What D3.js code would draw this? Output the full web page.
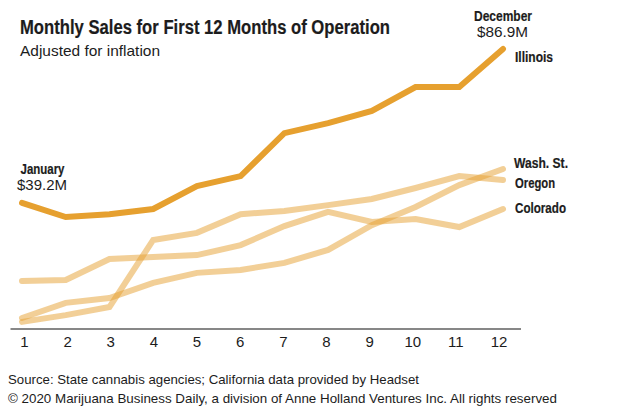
<!DOCTYPE html>
<html>
<head>
<meta charset="utf-8">
<script src="https://cdn.jsdelivr.net/npm/d3@7"></script>
<style>
html,body{margin:0;padding:0;background:#fff}
svg{display:block}
text{fill:#1c1c1c}
.h{font-family:"Liberation Sans",sans-serif;font-weight:700;stroke:#1c1c1c;stroke-width:.2px}
.b{font-family:"Liberation Sans",sans-serif}
</style>
</head>
<body>
<svg id="c" width="620" height="413"></svg>
<script>
const months = [1,2,3,4,5,6,7,8,9,10,11,12];
const illinois = [39.2,34.8,35.7,37.3,44.4,47.5,60.8,63.9,67.7,75.1,75.1,86.9];
const colorado = [15.0,15.3,21.8,22.4,23.0,26.1,32.0,36.4,33.3,34.2,31.7,37.3];
const oregon = [2.3,4.4,6.9,27.7,29.9,35.7,36.7,38.5,40.4,43.8,47.5,46.3];
const washington = [3.5,8.2,9.7,14.4,17.5,18.4,20.6,24.6,32.3,37.9,44.7,49.7];
const seriesNames = ["Colorado","Oregon","Wash. St.","Illinois"];
const svg = d3.select("#c");
const x = d3.scaleLinear().domain([1,12]).range([22,503]);
const xLabels = d3.scaleLinear().domain([1,12]).range([24,498.5]);
const y = d3.scaleLinear().domain([0,86.9]).range([329.3,49]);
const line = d3.line().x((d,i)=>x(months[i])).y(d=>y(d));
const muted = [colorado,oregon,washington];
svg.selectAll("path.m").data(muted).join("path").attr("class","m")
  .attr("d",line).attr("fill","none").attr("stroke","#e6a02f").attr("stroke-opacity",.5)
  .attr("stroke-width",6).attr("stroke-linecap","round").attr("stroke-linejoin","miter");
svg.append("path").attr("d",line(illinois)).attr("fill","none").attr("stroke","#e6a02f")
  .attr("stroke-width",6).attr("stroke-linecap","round").attr("stroke-linejoin","miter");
svg.append("line").attr("x1",10.5).attr("x2",521).attr("y1",329).attr("y2",329).attr("stroke","#111").attr("stroke-width",1.2);
const axis = d3.axisBottom(xLabels).tickValues(months).tickFormat(d3.format("d")).tickSize(0).tickPadding(7);
const ag = svg.append("g").attr("transform","translate(0,329)").call(axis);
ag.select(".domain").remove();
ag.selectAll("text").attr("class","b").style("font-size","15px").style("fill","#1c1c1c");
function t(s,px,py,size,cls,len){
  return svg.append("text").text(s).attr("x",px).attr("y",py).attr("class",cls)
    .attr("textLength",len).attr("lengthAdjust","spacingAndGlyphs").style("font-size",size+"px");
}
t("Monthly Sales for First 12 Months of Operation",20,34,20,"h",370);
t("Adjusted for inflation",20,56,15,"b",140);
t("January",20.5,174,14,"h",44);
t("$39.2M",17,190,15,"b",50);
t("December",474,21,14,"h",58);
t("$86.9M",477,37,15,"b",51);
t(seriesNames[3],515,62,14,"h",38);
t(seriesNames[2],514,168,14,"h",54);
t(seriesNames[1],515,188,14,"h",40);
t(seriesNames[0],515,213,14,"h",51);
t("Source: State cannabis agencies; California data provided by Headset",8,384,13.2,"b",411);
t("© 2020 Marijuana Business Daily, a division of Anne Holland Ventures Inc. All rights reserved",8,403,13.2,"b",549);
</script>
</body>
</html>
